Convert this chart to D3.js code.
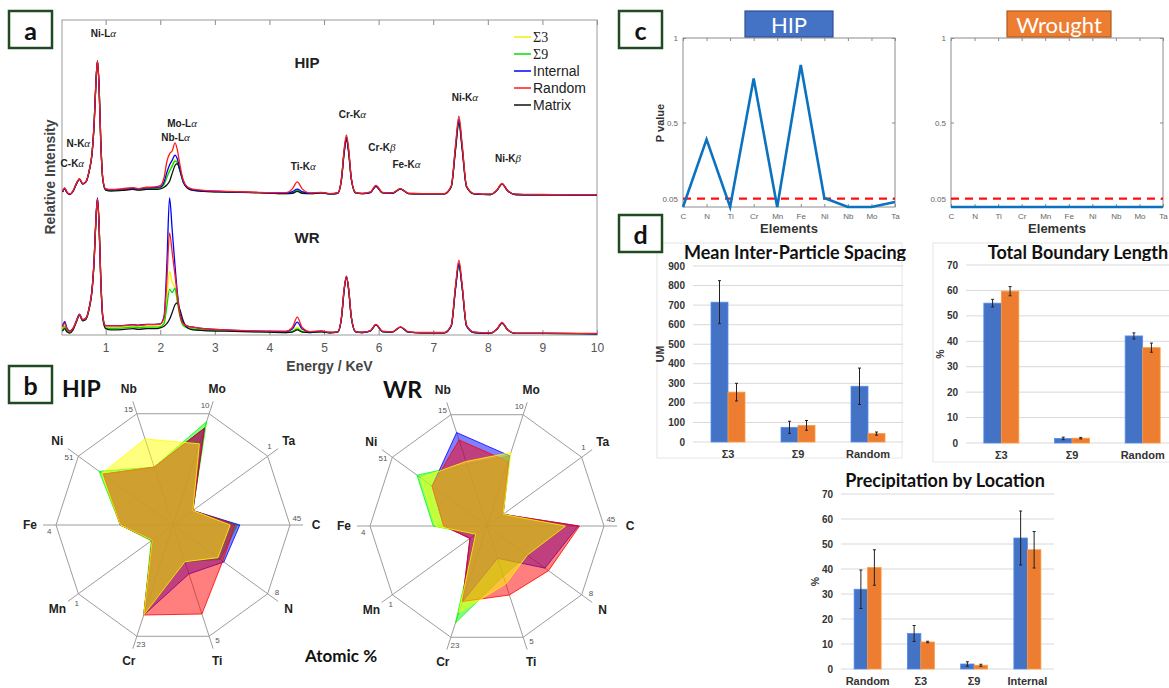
<!DOCTYPE html>
<html><head><meta charset="utf-8">
<script src="https://cdn.jsdelivr.net/npm/d3@7"></script>
<style>body{margin:0;background:#fff}svg{display:block}</style>
</head><body>
<svg id="fig" width="1169" height="688"></svg>
<script>
// ---------- (a) EDS spectra ----------
const energies = [
  0.21,0.25,0.29,0.34,0.40,0.46,0.52,0.58,0.64,0.70,0.75,0.79,0.82,0.85,0.88,0.91,0.95,1.00,1.10,
  1.30,1.50,1.60,1.75,1.90,2.00,2.07,2.12,2.17,2.22,2.27,2.31,2.36,2.42,2.50,2.60,2.80,3.20,3.80,
  4.30,4.42,4.51,4.60,4.75,4.95,5.10,
  5.25,5.32,5.37,5.41,5.45,5.50,5.58,5.70,
  5.85,5.95,6.07,6.25,6.40,6.55,6.80,
  7.20,7.33,7.41,7.47,7.53,7.61,7.75,
  8.05,8.17,8.26,8.36,8.50,9.00,10.0];

const hipMatrix = [
  1.4,2.4,1.2,0.6,1.5,3.8,5.4,3.9,4.6,8.2,13.5,23.5,35.5,43.0,34.5,17.5,5.0,2.0,1.7,
  1.9,2.2,2.0,2.2,2.2,2.4,2.9,3.6,4.8,7.4,9.8,10.4,8.4,5.0,2.6,1.9,1.6,1.4,1.2,
  0.9,1.0,1.6,1.0,0.9,1.1,0.8,
  1.0,5.4,14.0,17.9,14.0,5.4,1.1,0.9,
  1.2,3.2,1.1,1.0,2.3,0.9,0.8,
  0.8,3.0,15.0,23.3,15.0,3.0,0.8,
  0.6,2.0,3.9,1.8,0.6,0.5,0.4];
const hipRandom = [
  1.6,2.7,1.4,0.8,1.7,4.0,5.6,4.1,4.8,8.4,13.7,23.7,35.7,43.0,34.6,17.7,5.3,2.4,2.2,
  2.4,2.8,2.5,2.9,3.0,3.4,6.0,11.0,13.5,14.5,17.0,15.0,10.0,5.2,3.0,2.3,1.9,1.6,1.3,
  1.2,2.4,4.6,2.4,1.1,1.3,0.9,
  1.1,5.8,15.2,19.5,15.2,5.8,1.2,1.0,
  1.4,3.5,1.3,1.1,2.5,1.0,0.9,
  0.9,3.3,16.5,25.5,16.5,3.3,0.9,
  0.7,2.1,4.1,1.9,0.7,0.6,0.5];
const hipInternal = [
  1.5,2.6,1.3,0.7,1.6,3.9,5.5,4.0,4.7,8.3,13.6,23.6,35.6,43.0,34.5,17.6,5.2,2.3,2.1,
  2.3,2.6,2.4,2.7,2.8,3.0,4.6,7.6,10.0,11.5,13.1,12.0,8.6,4.6,2.8,2.1,1.8,1.5,1.2,
  1.0,1.5,2.3,1.5,1.0,1.2,0.8,
  1.0,5.6,14.6,18.8,14.6,5.6,1.1,0.9,
  1.3,3.3,1.2,1.0,2.4,0.9,0.8,
  0.8,3.2,15.9,24.5,15.9,3.2,0.8,
  0.6,2.0,4.0,1.9,0.6,0.5,0.4];
const hipSigma3 = [
  1.5,2.5,1.3,0.7,1.6,3.9,5.5,4.0,4.7,8.3,13.6,23.6,35.6,43.0,34.5,17.6,5.1,2.2,2.0,
  2.1,2.4,2.2,2.5,2.6,2.8,4.0,6.4,8.4,10.0,11.6,11.0,8.0,4.5,2.7,2.0,1.7,1.4,1.2,
  0.9,1.2,2.0,1.2,0.9,1.1,0.8,
  1.0,5.5,14.4,18.5,14.4,5.5,1.1,0.9,
  1.3,3.3,1.2,1.0,2.4,0.9,0.8,
  0.8,3.1,15.6,24.0,15.6,3.1,0.8,
  0.6,2.0,4.0,1.9,0.6,0.5,0.4];
const hipSigma9 = [
  1.5,2.5,1.3,0.7,1.6,3.9,5.5,4.0,4.7,8.3,13.6,23.6,35.6,42.8,34.4,17.6,5.1,2.1,1.9,
  2.0,2.3,2.1,2.4,2.5,2.7,3.8,6.0,8.0,9.6,11.2,10.8,8.0,4.5,2.7,2.0,1.7,1.4,1.2,
  0.9,1.1,1.9,1.1,0.9,1.1,0.8,
  1.0,5.5,14.3,18.3,14.3,5.5,1.1,0.9,
  1.3,3.3,1.2,1.0,2.4,0.9,0.8,
  0.8,3.1,15.4,23.8,15.4,3.1,0.8,
  0.6,2.0,4.0,1.9,0.6,0.5,0.4];

const wrMatrix = [
  1.2,2.0,1.0,0.6,1.5,4.0,6.2,4.5,5.0,8.5,14.0,24.0,36.0,43.2,34.5,17.7,5.0,2.0,1.6,
  1.7,2.0,1.8,2.0,2.0,2.3,2.8,3.6,5.0,7.2,9.6,10.2,8.0,4.5,2.2,1.6,1.4,1.2,1.0,
  0.8,0.9,1.6,0.9,0.8,1.0,0.7,
  0.9,5.5,14.5,18.4,14.5,5.5,1.0,0.8,
  1.3,3.2,1.1,0.9,2.5,0.9,0.7,
  0.7,2.9,15.0,22.2,15.0,2.9,0.8,
  0.6,1.9,3.8,1.7,0.5,0.5,0.4];
const wrRandom = [
  2.5,3.8,2.0,1.2,2.0,4.3,6.5,4.8,5.3,8.8,14.3,24.3,36.3,43.2,34.8,18.0,5.5,2.9,2.9,
  2.9,3.2,3.0,3.3,3.3,3.5,5.5,17.0,32.4,26.0,19.0,13.0,6.5,3.6,2.8,2.5,2.0,1.6,1.3,
  1.2,2.4,5.7,2.4,1.1,1.3,0.9,
  1.0,5.8,15.0,18.8,15.0,5.8,1.1,0.9,
  1.4,3.4,1.2,1.0,2.6,1.0,0.8,
  0.8,3.1,16.0,23.8,16.0,3.1,0.9,
  0.7,2.0,4.0,1.8,0.6,0.6,0.5];
const wrInternal = [
  2.8,4.2,2.2,1.3,2.1,4.4,6.6,4.9,5.4,8.9,14.4,24.4,36.4,43.5,35.0,18.0,5.5,3.0,3.0,
  3.0,3.3,3.1,3.4,3.4,3.5,6.0,22.0,43.5,33.0,22.0,14.0,7.0,3.8,2.8,2.5,2.0,1.6,1.2,
  1.1,1.9,4.1,1.9,1.0,1.2,0.8,
  1.0,5.6,14.6,18.5,14.6,5.6,1.0,0.8,
  1.3,3.3,1.1,1.0,2.5,0.9,0.7,
  0.7,2.9,15.2,22.8,15.2,2.9,0.8,
  0.6,1.9,3.8,1.7,0.5,0.5,0.4];
const wrSigma3 = [
  1.8,3.0,1.6,0.9,1.8,4.2,6.4,4.7,5.2,8.7,14.2,24.2,36.2,43.0,34.6,17.8,5.2,2.5,2.4,
  2.5,2.8,2.6,2.8,2.8,2.8,4.0,11.0,20.3,16.5,15.0,11.0,6.0,3.2,2.4,2.0,1.7,1.4,1.1,
  0.9,1.3,2.5,1.3,0.9,1.1,0.8,
  1.0,5.6,14.6,18.5,14.6,5.6,1.0,0.8,
  1.3,3.3,1.1,1.0,2.5,0.9,0.7,
  0.7,3.0,15.4,23.0,15.4,3.0,0.8,
  0.6,1.9,3.8,1.7,0.5,0.5,0.4];
const wrSigma9 = [
  1.5,2.6,1.4,0.8,1.7,4.1,6.3,4.6,5.1,8.6,14.1,24.1,36.1,43.0,34.6,17.8,5.1,2.2,2.1,
  2.2,2.5,2.3,2.5,2.5,2.6,3.6,9.0,14.5,13.5,14.9,11.0,6.0,3.0,2.3,1.9,1.6,1.3,1.0,
  0.8,1.1,1.9,1.1,0.8,1.0,0.7,
  0.9,5.5,14.5,18.4,14.5,5.5,1.0,0.8,
  1.3,3.2,1.1,0.9,2.5,0.9,0.7,
  0.7,2.9,15.2,22.6,15.2,2.9,0.8,
  0.6,1.9,3.8,1.7,0.5,0.5,0.4];

const hipOffset = 44;   // vertical stacking of the HIP trace above the WR trace
const energyTicks = [1,2,3,4,5,6,7,8,9,10];
const peakNames = ['C-K','N-K','Ni-L','Nb-L','Mo-L','Ti-K','Cr-K','Cr-K','Fe-K','Ni-K','Ni-K'];
const peakGreek = ['α','α','α','α','α','α','α','β','α','α','β'];
const peakEnergies = [0.28,0.39,0.85,2.17,2.29,4.51,5.41,5.95,6.40,7.47,8.26];

// ---------- (b) composition radar (atomic %) ----------
const radarAxes = ['C','Ta','Mo','Nb','Ni','Fe','Mn','Cr','Ti','N'];
const radarMax  = [45,1,10,15,51,4,1,23,5,8];
const hipRadarSigma3   = [22.0,0.21,7.3,11.6,38.3,1.8,0.22,18.6,1.65,3.8];
const hipRadarSigma9   = [24.8,0.21,9.3,7.8,39.8,1.8,0.23,18.6,1.65,4.0];
const hipRadarInternal = [25.7,0.21,8.7,7.8,37.7,1.8,0.22,18.6,2.2,4.3];
const hipRadarRandom   = [23.9,0.21,8.7,7.8,37.7,1.8,0.22,18.6,4.0,4.2];
const wrRadarSigma3    = [30.2,0.17,6.6,8.7,35.7,1.76,0.12,17.9,2.6,3.4];
const wrRadarSigma9    = [29.7,0.17,6.3,8.3,37.7,1.84,0.12,20.0,2.25,3.4];
const wrRadarInternal  = [35.1,0.17,6.3,12.6,29.6,1.48,0.18,15.6,1.45,4.9];
const wrRadarRandom    = [35.6,0.17,5.8,11.6,29.6,1.48,0.18,15.6,3.1,5.2];

// ---------- (c) p-values ----------
const pElements = ['C','N','Ti','Cr','Mn','Fe','Ni','Nb','Mo','Ta'];
const pHIP      = [0.0,0.40,0.0,0.76,0.0,0.84,0.053,0.0,0.0,0.03];
const pWrought  = [0,0,0,0,0,0,0,0,0,0];
const pThreshold = 0.05;
const pTicks = [0.05,0.5,1];

// ---------- (d) bar charts ----------
const spacingCats = ['Σ3','Σ9','Random'];
const spacingHIP = [715,75,285],  spacingHIPErr = [110,31,93];
const spacingWR  = [255,85,43],   spacingWRErr  = [45,25,8];
const boundaryCats = ['Σ3','Σ9','Random'];
const boundaryHIP = [55.0,1.8,42.1], boundaryHIPErr = [1.5,0.5,1.2];
const boundaryWR  = [59.7,1.9,37.5], boundaryWRErr  = [1.8,0.3,1.8];
const precipCats = ['Random','Σ3','Σ9','Internal'];
const precipHIP = [31.9,14.2,2.0,52.4], precipHIPErr = [7.7,3.2,0.9,10.8];
const precipWR  = [40.6,10.8,1.5,47.7], precipWRErr  = [7.1,0.3,0.4,7.3];

// ================= drawing =================
const svg = d3.select('#fig');
const SANS = '"Liberation Sans", Arial, sans-serif';
const SERIF = '"Liberation Serif", "Times New Roman", serif';
const CAL = 'Lato, "Open Sans", sans-serif';

function letterBox(x, y, t) {
  svg.append('rect').attr('x', x).attr('y', y).attr('width', 43).attr('height', 37)
    .attr('fill', '#fff').attr('stroke', '#1f4a22').attr('stroke-width', 2.5);
  svg.append('text').attr('x', x + 21.5).attr('y', y + 19).attr('text-anchor', 'middle')
    .attr('dominant-baseline', 'central').attr('font-family', CAL).attr('font-weight', 700)
    .attr('font-size', 25).attr('fill', '#111').text(t);
}

// faint chart-area outlines of the two upper bar charts
[[657, 243, 245, 215], [933, 243, 240, 219]].forEach(([x, y, w, h]) =>
  svg.append('rect').attr('x', x).attr('y', y).attr('width', w).attr('height', h)
    .attr('fill', 'none').attr('stroke', '#e6e6e6').attr('stroke-width', 1));

// ----- panel a -----
(function () {
  const g = svg.append('g');
  const x = d3.scaleLinear().domain([0.2, 10]).range([62, 597]);
  const y = d3.scaleLinear().domain([0, 100]).range([335, 20]);
  const [x0, x1] = x.range(), [yb, yt] = y.range();

  g.append('clipPath').attr('id', 'clipA').append('rect')
    .attr('x', x0).attr('y', yt).attr('width', x1 - x0).attr('height', yb - yt);

  const bottom = g.append('g').attr('transform', `translate(0,${yb})`)
    .call(d3.axisBottom(x).tickValues(energyTicks).tickSize(-5).tickPadding(8).tickFormat(d3.format('d')));
  const top = g.append('g').attr('transform', `translate(0,${yt})`)
    .call(d3.axisTop(x).tickValues(energyTicks).tickSize(-5).tickFormat(''));
  [bottom, top].forEach(a => {
    a.select('.domain').remove();
    a.selectAll('line').attr('stroke', '#8a8a8a');
    a.selectAll('text').attr('font-family', SANS).attr('font-size', 12).attr('fill', '#555');
  });
  g.append('rect').attr('x', x0).attr('y', yt).attr('width', x1 - x0).attr('height', yb - yt)
    .attr('fill', 'none').attr('stroke', '#9a9a9a').attr('stroke-width', 1);

  const series = [
    { key: 'Σ3', color: '#f2f200', hip: hipSigma3, wr: wrSigma3 },
    { key: 'Σ9', color: '#00e000', hip: hipSigma9, wr: wrSigma9 },
    { key: 'Matrix', color: '#111111', hip: hipMatrix, wr: wrMatrix },
    { key: 'Internal', color: '#0000ff', hip: hipInternal, wr: wrInternal },
    { key: 'Random', color: '#ff1a1a', hip: hipRandom, wr: wrRandom }
  ];
  const lineFor = off => d3.line().x((d, i) => x(energies[i])).y(d => y(d + off)).curve(d3.curveMonotoneX);
  const traces = g.append('g').attr('clip-path', 'url(#clipA)');
  series.forEach(s => {
    traces.append('path').attr('d', lineFor(0)(s.wr)).attr('fill', 'none')
      .attr('stroke', s.color).attr('stroke-width', 1.3);
  });
  series.forEach(s => {
    traces.append('path').attr('d', lineFor(hipOffset)(s.hip)).attr('fill', 'none')
      .attr('stroke', s.color).attr('stroke-width', 1.3);
  });

  // legend
  const legendOrder = ['Σ3', 'Σ9', 'Internal', 'Random', 'Matrix'];
  legendOrder.forEach((k, i) => {
    const s = series.find(d => d.key === k);
    const ly = 37 + i * 17;
    g.append('line').attr('x1', 514).attr('x2', 531).attr('y1', ly).attr('y2', ly)
      .attr('stroke', s.color).attr('stroke-width', 1.5);
    g.append('text').attr('x', 533).attr('y', ly).attr('dominant-baseline', 'central')
      .attr('font-family', k.startsWith('Σ') ? SERIF : SANS).attr('font-size', 14)
      .attr('fill', '#222').text(k);
  });

  // peak labels
  const labelY = [163, 143, 33, 137, 123, 166, 114, 147, 164, 97, 158];
  peakNames.forEach((n, i) => {
    const t = g.append('text').attr('x', x(peakEnergies[i]) + 6).attr('y', labelY[i])
      .attr('text-anchor', 'middle').attr('dominant-baseline', 'central')
      .attr('font-family', SANS).attr('font-weight', 700).attr('font-size', 10).attr('fill', '#222');
    t.append('tspan').text(n);
    t.append('tspan').attr('font-family', SERIF).attr('font-style', 'italic')
      .attr('font-weight', 400).attr('font-size', 11).text(peakGreek[i]);
  });

  g.append('text').attr('x', 307).attr('y', 62).attr('text-anchor', 'middle').attr('dominant-baseline', 'central')
    .attr('font-family', SANS).attr('font-weight', 700).attr('font-size', 15).attr('fill', '#222').text('HIP');
  g.append('text').attr('x', 307).attr('y', 237).attr('text-anchor', 'middle').attr('dominant-baseline', 'central')
    .attr('font-family', SANS).attr('font-weight', 700).attr('font-size', 15).attr('fill', '#222').text('WR');
  g.append('text').attr('x', (x0 + x1) / 2).attr('y', 366).attr('text-anchor', 'middle').attr('dominant-baseline', 'central')
    .attr('font-family', SANS).attr('font-weight', 700).attr('font-size', 14).attr('fill', '#444').text('Energy / KeV');
  g.append('text').attr('transform', `translate(50,177) rotate(-90)`).attr('text-anchor', 'middle')
    .attr('dominant-baseline', 'central').attr('font-family', SANS).attr('font-weight', 700)
    .attr('font-size', 14).attr('fill', '#444').text('Relative Intensity');
})();

// ----- panel b -----
function radar(cx, cy, R, sets) {
  const g = svg.append('g');
  const n = radarAxes.length;
  const ang = i => i * 2 * Math.PI / n;
  const pt = (i, r) => [cx + r * Math.cos(ang(i)), cy - r * Math.sin(ang(i))];
  const rScales = radarMax.map(m => d3.scaleLinear().domain([0, m]).range([0, R]));

  radarAxes.forEach((a, i) => {
    const [ex, ey] = pt(i, R + 13);
    g.append('line').attr('x1', cx).attr('y1', cy).attr('x2', ex).attr('y2', ey)
      .attr('stroke', '#9d9d9d').attr('stroke-width', 1);
  });
  g.append('path').attr('d', d3.line().curve(d3.curveLinearClosed)(radarAxes.map((a, i) => pt(i, R))))
    .attr('fill', 'none').attr('stroke', '#9d9d9d').attr('stroke-width', 1);

  sets.forEach(s => {
    const pts = s.values.map((v, i) => pt(i, rScales[i](v)));
    g.append('path').attr('d', d3.line().curve(d3.curveLinearClosed)(pts))
      .attr('fill', s.color).attr('fill-opacity', 0.5)
      .attr('stroke', s.color).attr('stroke-width', 1).attr('stroke-opacity', 0.8);
  });

  radarAxes.forEach((a, i) => {
    const [lx, ly] = pt(i, R + 26);
    g.append('text').attr('x', lx).attr('y', ly).attr('text-anchor', 'middle').attr('dominant-baseline', 'central')
      .attr('font-family', SANS).attr('font-weight', 700).attr('font-size', 12).attr('fill', '#222').text(a);
    const a2 = ang(i) + 3 * Math.PI / 180;
    g.append('text').attr('x', cx + (R + 7) * Math.cos(a2)).attr('y', cy - (R + 7) * Math.sin(a2))
      .attr('text-anchor', 'middle').attr('dominant-baseline', 'central')
      .attr('font-family', SANS).attr('font-size', 8).attr('fill', '#555').text(radarMax[i]);
  });
}
const radarColors = { 'Σ9': '#00ff00', 'Internal': '#0000ff', 'Random': '#ff0000', 'Σ3': '#ffff00' };
radar(173, 525, 117, [
  { color: radarColors['Σ9'], values: hipRadarSigma9 },
  { color: radarColors['Internal'], values: hipRadarInternal },
  { color: radarColors['Random'], values: hipRadarRandom },
  { color: radarColors['Σ3'], values: hipRadarSigma3 }]);
radar(487, 526, 117, [
  { color: radarColors['Σ9'], values: wrRadarSigma9 },
  { color: radarColors['Internal'], values: wrRadarInternal },
  { color: radarColors['Random'], values: wrRadarRandom },
  { color: radarColors['Σ3'], values: wrRadarSigma3 }]);
svg.append('text').attr('x', 62).attr('y', 388).attr('dominant-baseline', 'central')
  .attr('font-family', CAL).attr('font-weight', 700).attr('font-size', 23).attr('fill', '#111').text('HIP');
svg.append('text').attr('x', 383).attr('y', 389).attr('dominant-baseline', 'central')
  .attr('font-family', CAL).attr('font-weight', 700).attr('font-size', 23).attr('fill', '#111').text('WR');
svg.append('text').attr('x', 305).attr('y', 655).attr('dominant-baseline', 'central')
  .attr('font-family', CAL).attr('font-weight', 700).attr('font-size', 17).attr('fill', '#111').text('Atomic %');

// ----- panel c -----
function pPlot(x0, x1, values, title, fill, stroke, bx, bw, showYLabel) {
  const g = svg.append('g');
  const x = d3.scalePoint().domain(pElements).range([x0, x1]);
  const y = d3.scaleLinear().domain([0, 1]).range([207, 38]);
  const [yb, yt] = y.range();
  g.append('rect').attr('x', x0).attr('y', yt).attr('width', x1 - x0).attr('height', yb - yt)
    .attr('fill', '#fff').attr('stroke', '#8c8c8c');
  const styleAxis = a => {
    a.select('.domain').remove();
    a.selectAll('line').attr('stroke', '#8c8c8c');
    a.selectAll('text').attr('font-family', SANS).attr('font-size', 8).attr('fill', '#666');
  };
  g.append('g').attr('transform', `translate(0,${yb})`)
    .call(d3.axisBottom(x).tickSize(-3).tickPadding(6)).call(styleAxis);
  g.append('g').attr('transform', `translate(0,${yt})`)
    .call(d3.axisTop(x).tickSize(-3).tickFormat('')).call(styleAxis);
  g.append('g').attr('transform', `translate(${x0},0)`)
    .call(d3.axisLeft(y).tickValues(pTicks).tickSize(-3).tickPadding(5).tickFormat(d3.format('~g'))).call(styleAxis);
  g.append('g').attr('transform', `translate(${x1},0)`)
    .call(d3.axisRight(y).tickValues(pTicks).tickSize(-3).tickFormat('')).call(styleAxis);

  g.append('line').attr('x1', x0).attr('x2', x1).attr('y1', y(pThreshold)).attr('y2', y(pThreshold))
    .attr('stroke', '#ff1010').attr('stroke-width', 2.2).attr('stroke-dasharray', '8,6');
  g.append('path').attr('d', d3.line().x((d, i) => x(pElements[i])).y(d => y(d))(values))
    .attr('fill', 'none').attr('stroke', '#0b72c0').attr('stroke-width', 2.6);

  g.append('text').attr('x', (x0 + x1) / 2).attr('y', 228).attr('text-anchor', 'middle').attr('dominant-baseline', 'central')
    .attr('font-family', SANS).attr('font-weight', 700).attr('font-size', 13).attr('fill', '#333').text('Elements');
  if (showYLabel) {
    g.append('text').attr('transform', `translate(${x0 - 23},123) rotate(-90)`).attr('text-anchor', 'middle')
      .attr('dominant-baseline', 'central').attr('font-family', SANS).attr('font-weight', 700)
      .attr('font-size', 11).attr('fill', '#333').text('P value');
  }
  g.append('rect').attr('x', bx).attr('y', 11).attr('width', bw).attr('height', 26)
    .attr('fill', fill).attr('stroke', stroke).attr('stroke-width', 1.2);
  g.append('text').attr('x', bx + bw / 2).attr('y', 24.5).attr('text-anchor', 'middle').attr('dominant-baseline', 'central')
    .attr('font-family', CAL).attr('font-size', 22).attr('fill', '#fff').text(title);
}
pPlot(683, 895, pHIP, 'HIP', '#4472c4', '#2f528f', 745, 88, true);
pPlot(951, 1163, pWrought, 'Wrought', '#ed7d31', '#ae5a21', 1007, 104, false);

// ----- panel d -----
function barChart(o) {
  const g = svg.append('g');
  const x = d3.scaleBand().domain(o.cats).range([o.x0, o.x1]);
  const inner = d3.scaleBand().domain(['HIP', 'Wrought']).range([-o.bw, o.bw]);
  const y = d3.scaleLinear().domain([0, o.max]).range([o.yb, o.yt]);
  const ticks = d3.range(0, o.max + 1e-9, o.step);

  g.selectAll('.grid').data(ticks).join('line')
    .attr('x1', o.x0).attr('x2', o.x1).attr('y1', d => y(d)).attr('y2', d => y(d))
    .attr('stroke', '#d9d9d9').attr('stroke-width', 1);
  g.selectAll('.yl').data(ticks).join('text')
    .attr('x', o.x0 - 8).attr('y', d => y(d)).attr('text-anchor', 'end').attr('dominant-baseline', 'central')
    .attr('font-family', SANS).attr('font-weight', 700).attr('font-size', 10).attr('fill', '#333').text(d => d);
  g.selectAll('.xl').data(o.cats).join('text')
    .attr('x', d => x(d) + x.bandwidth() / 2).attr('y', o.yb + 12).attr('text-anchor', 'middle')
    .attr('dominant-baseline', 'central').attr('font-family', SANS).attr('font-weight', 700)
    .attr('font-size', 11).attr('fill', '#333').text(d => d);

  const groups = [
    { key: 'HIP', color: '#4472c4', v: o.hip, e: o.hipErr },
    { key: 'Wrought', color: '#ed7d31', v: o.wr, e: o.wrErr }];
  groups.forEach(gr => {
    o.cats.forEach((c, i) => {
      const cx = x(c) + x.bandwidth() / 2 + inner(gr.key);
      g.append('rect').attr('x', cx).attr('y', y(gr.v[i])).attr('width', inner.bandwidth())
        .attr('height', y(0) - y(gr.v[i])).attr('fill', gr.color)
        .attr('stroke', d3.color(gr.color).brighter(0.6)).attr('stroke-width', 0.8);
    });
  });
  groups.forEach(gr => {
    o.cats.forEach((c, i) => {
      const mx = x(c) + x.bandwidth() / 2 + inner(gr.key) + inner.bandwidth() / 2;
      const lo = y(gr.v[i] - gr.e[i]), hi = y(gr.v[i] + gr.e[i]);
      g.append('line').attr('x1', mx).attr('x2', mx).attr('y1', lo).attr('y2', hi).attr('stroke', '#222').attr('stroke-width', 1);
      [lo, hi].forEach(yy => g.append('line').attr('x1', mx - 1.5).attr('x2', mx + 1.5).attr('y1', yy).attr('y2', yy)
        .attr('stroke', '#222').attr('stroke-width', 1));
    });
  });

  const clipId = 'clipT' + o.id;
  g.append('clipPath').attr('id', clipId).append('rect')
    .attr('x', o.tx - 200).attr('y', o.ty - 30).attr('width', 400).attr('height', 30 + o.tclip);
  g.append('text').attr('clip-path', `url(#${clipId})`).attr('x', o.tx).attr('y', o.ty)
    .attr('text-anchor', 'middle').attr('font-family', CAL).attr('font-weight', 700)
    .attr('font-size', 18).attr('fill', '#111').text(o.title);
  g.append('text').attr('transform', `translate(${o.ylx},${(o.yb + o.yt) / 2}) rotate(-90)`).attr('text-anchor', 'middle')
    .attr('dominant-baseline', 'central').attr('font-family', SANS).attr('font-weight', 700)
    .attr('font-size', 10.5).attr('fill', '#333').text(o.ylabel);
}
barChart({ id: 1, cats: spacingCats, hip: spacingHIP, hipErr: spacingHIPErr, wr: spacingWR, wrErr: spacingWRErr,
  x0: 693, x1: 903, bw: 17, max: 900, step: 100, yb: 442, yt: 266,
  title: 'Mean Inter-Particle Spacing', tx: 795, ty: 259, tclip: 2, ylabel: 'UM', ylx: 660 });
barChart({ id: 2, cats: boundaryCats, hip: boundaryHIP, hipErr: boundaryHIPErr, wr: boundaryWR, wrErr: boundaryWRErr,
  x0: 966, x1: 1178, bw: 17.5, max: 70, step: 10, yb: 443, yt: 265,
  title: 'Total Boundary Length', tx: 1078, ty: 259, tclip: 2, ylabel: '%', ylx: 940 });
barChart({ id: 3, cats: precipCats, hip: precipHIP, hipErr: precipHIPErr, wr: precipWR, wrErr: precipWRErr,
  x0: 841, x1: 1054, bw: 13.5, max: 70, step: 10, yb: 669, yt: 494,
  title: 'Precipitation by Location', tx: 945, ty: 487, tclip: 2, ylabel: '%', ylx: 815 });

letterBox(9, 11, 'a');
letterBox(9, 366, 'b');
letterBox(619, 11, 'c');
letterBox(619, 215, 'd');
</script>
</body></html>
